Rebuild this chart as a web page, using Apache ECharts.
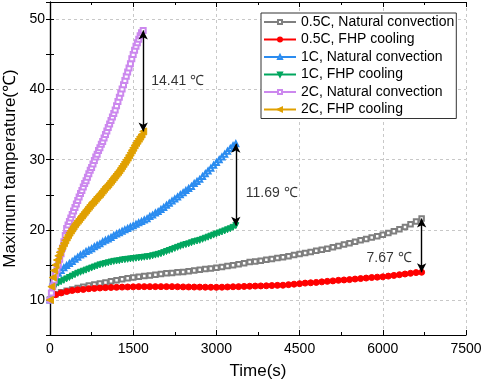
<!DOCTYPE html>
<html>
<head>
<meta charset="utf-8">
<script src="https://cdn.jsdelivr.net/npm/echarts@6/dist/echarts.min.js"></script>
<style>
  html, body { margin: 0; padding: 0; background: #fff; }
  #chart { width: 484px; height: 381px; }
</style>
</head>
<body>
<div id="chart"></div>
<script>
// sampling times (s)
const t05 = [0,100,200,300,400,500,600,700,800,900,1000,1100,1200,1300,1400,1500,1600,1700,1800,1900,
  2000,2100,2200,2300,2400,2500,2600,2700,2800,2900,3000,3100,3200,3300,3400,3500,3600,3700,3800,3900,
  4000,4100,4200,4300,4400,4500,4600,4700,4800,4900,5000,5100,5200,5300,5400,5500,5600,5700,5800,5900,
  6000,6100,6200,6300,6400,6500,6600,6700]
const t1 = [0,50,100,150,200,250,300,350,400,450,500,550,600,650,700,750,800,850,900,950,
  1000,1050,1100,1150,1200,1250,1300,1350,1400,1450,1500,1550,1600,1650,1700,1750,1800,1850,1900,1950,
  2000,2050,2100,2150,2200,2250,2300,2350,2400,2450,2500,2550,2600,2650,2700,2750,2800,2850,2900,2950,
  3000,3050,3100,3150,3200,3250,3300,3350]
const t2 = [0,25,50,75,100,125,150,175,200,225,250,275,300,325,350,375,400,425,450,475,
  500,525,550,575,600,625,650,675,700,725,750,775,800,825,850,875,900,925,950,975,
  1000,1025,1050,1075,1100,1125,1150,1175,1200,1225,1250,1275,1300,1325,1350,1375,1400,1425,1450,1475,
  1500,1525,1550,1575,1600,1625,1650,1680]

// maximum temperature (℃)
const nc05 = [10,10.8,11.1,11.3,11.5,11.7,11.9,12.05,12.2,12.35,12.5,12.65,12.8,12.95,13.1,13.2,13.3,13.4,13.5,13.6,
  13.7,13.8,13.85,13.95,14.0,14.1,14.2,14.3,14.4,14.5,14.6,14.7,14.85,14.95,15.1,15.25,15.4,15.5,15.6,15.75,
  15.85,16.0,16.1,16.25,16.4,16.55,16.7,16.85,17.0,17.15,17.3,17.5,17.7,17.9,18.1,18.3,18.5,18.7,18.9,19.1,
  19.3,19.55,19.8,20.1,20.4,20.8,21.2,21.62]
const fhp05 = [10,10.75,11.0,11.2,11.35,11.45,11.5,11.6,11.65,11.7,11.75,11.78,11.8,11.83,11.85,11.87,11.9,11.9,11.9,11.9,
  11.9,11.9,11.9,11.88,11.86,11.85,11.84,11.83,11.82,11.81,11.8,11.82,11.85,11.88,11.9,11.93,11.95,11.98,12.0,12.02,
  12.05,12.08,12.1,12.18,12.25,12.32,12.4,12.45,12.5,12.58,12.65,12.72,12.8,12.85,12.9,12.98,13.05,13.12,13.2,13.25,
  13.3,13.4,13.5,13.6,13.7,13.8,13.9,13.95]
const nc1 = [10,12.6,13.3,13.8,14.2,14.6,14.9,15.2,15.5,15.8,16.1,16.4,16.6,16.9,17.1,17.3,17.6,17.8,18.0,18.3,
  18.5,18.7,18.9,19.2,19.4,19.6,19.8,20.0,20.2,20.4,20.6,20.8,21.0,21.2,21.4,21.6,21.9,22.1,22.4,22.6,
  22.9,23.2,23.5,23.8,24.1,24.4,24.7,25.0,25.3,25.6,25.9,26.2,26.6,26.9,27.2,27.6,28.0,28.4,28.8,29.2,
  29.6,30.0,30.4,30.8,31.2,31.6,32.0,32.29]
const fhp1 = [10,11.6,12.1,12.4,12.6,12.8,13.0,13.2,13.4,13.6,13.8,13.95,14.1,14.25,14.4,14.55,14.7,14.85,15.0,15.1,
  15.2,15.3,15.4,15.5,15.55,15.6,15.7,15.75,15.8,15.85,15.9,15.95,16.0,16.05,16.1,16.15,16.2,16.3,16.4,16.5,
  16.6,16.75,16.9,17.05,17.2,17.35,17.5,17.65,17.8,17.9,18.0,18.15,18.3,18.4,18.5,18.65,18.8,18.95,19.1,19.25,
  19.4,19.55,19.7,19.85,20.0,20.15,20.35,20.6]
const nc2 = [10,11.0,11.9,12.8,13.6,14.3,15.0,15.8,16.6,17.4,18.3,19.2,20.2,20.7,21.2,21.7,22.2,22.7,23.2,23.7,
  24.2,24.7,25.2,25.6,26.1,26.6,27.0,27.5,28.0,28.5,28.9,29.4,29.9,30.4,30.8,31.3,31.7,32.2,32.6,33.1,
  33.6,34.1,34.6,35.1,35.6,36.1,36.6,37.1,37.7,38.3,38.9,39.5,40.1,40.7,41.3,41.9,42.5,43.1,43.7,44.4,
  45.0,45.6,46.2,46.7,47.2,47.7,48.1,48.45]
const fhp2 = [10,11.9,13.2,14.2,15.0,15.7,16.3,16.8,17.3,17.7,18.1,18.5,18.9,19.25,19.6,19.9,20.2,20.5,20.8,21.05,
  21.3,21.55,21.8,22.05,22.3,22.55,22.8,23.05,23.3,23.55,23.8,24.0,24.2,24.45,24.7,24.9,25.1,25.35,25.6,25.85,
  26.1,26.3,26.5,26.75,27.0,27.25,27.5,27.75,28.0,28.25,28.5,28.8,29.1,29.4,29.7,30.0,30.3,30.65,31.0,31.35,
  31.7,32.05,32.4,32.7,33.0,33.3,33.6,34.04]

const seriesNames = ["0.5C, Natural convection", "0.5C, FHP cooling", "1C, Natural convection",
  "1C, FHP cooling", "2C, Natural convection", "2C, FHP cooling"]
const diffLabels = ["14.41 ℃", "11.69 ℃", "7.67 ℃"]
const xTicks = [0, 1500, 3000, 4500, 6000, 7500]

const font = "'Liberation Sans', Arial, sans-serif"
const pts = (t, v) => t.map((x, i) => [x, v[i]])
const last = (a) => a[a.length - 1]

const chart = echarts.init(document.getElementById("chart"), null, { renderer: "canvas" })

const gridColor = "#c8c8c8"
const axisColor = "#000"

function arrow(t, lo, hi) {
  return {
    silent: true,
    symbol: ["arrow", "arrow"],
    symbolSize: [7, 9],
    label: { show: false },
    lineStyle: { color: "#000", width: 1.4, type: "solid" },
    emphasis: { disabled: true },
    animation: false,
    data: [[{ coord: [t, lo] }, { coord: [t, hi] }]],
  }
}

function lineSeries(name, data, color, symbol, size, opts = {}) {
  return Object.assign({
    name,
    type: "line",
    data,
    symbol,
    symbolSize: size,
    showSymbol: true,
    lineStyle: { color, width: 1 },
    itemStyle: { color, borderColor: color, borderWidth: 1 },
    emphasis: { disabled: true },
  }, opts)
}

const notes = [
  { t: last(t2), lo: last(fhp2), hi: last(nc2), text: diffLabels[0], pos: "right", dist: 8, dy: 0 },
  { t: last(t1), lo: last(fhp1), hi: last(nc1), text: diffLabels[1], pos: "right", dist: 10, dy: 8 },
  { t: last(t05), lo: last(fhp05), hi: last(nc05), text: diffLabels[2], pos: "left", dist: 10, dy: 13 },
]

const series = [
  lineSeries(seriesNames[0], pts(t05, nc05), "#7f7f7f", "emptyRect", 4.5),
  lineSeries(seriesNames[1], pts(t05, fhp05), "#ff0000", "circle", 6,
    { markLine: arrow(notes[2].t, notes[2].lo, notes[2].hi) }),
  lineSeries(seriesNames[2], pts(t1, nc1), "#2b8cf0", "emptyTriangle", 5),
  lineSeries(seriesNames[3], pts(t1, fhp1), "#00a65e", "triangle", 6,
    { symbolRotate: 180, markLine: arrow(notes[1].t, notes[1].lo, notes[1].hi) }),
  lineSeries(seriesNames[4], pts(t2, nc2), "#cc88ee", "emptyRect", 5),
  lineSeries(seriesNames[5], pts(t2, fhp2), "#e0a000", "triangle", 7,
    { symbolRotate: 90, markLine: arrow(notes[0].t, notes[0].lo, notes[0].hi) }),
  {
    name: "notes",
    type: "scatter",
    silent: true,
    symbolSize: 0,
    z: 10,
    data: notes.map((n) => ({
      value: [n.t, (n.lo + n.hi) / 2],
      label: {
        show: true,
        formatter: n.text,
        position: n.pos,
        distance: n.dist,
        offset: [0, n.dy],
        color: "#000",
        fontSize: 14,
        fontFamily: font,
      },
    })),
  },
]

const tickStyle = { inside: true, length: 5, lineStyle: { color: axisColor, width: 1 } }

chart.setOption({
  animation: false,
  backgroundColor: "#fff",
  textStyle: { fontFamily: font },
  grid: { left: 50, right: 18, top: 2, bottom: 46, outerBoundsMode: "none", containLabel: false },
  legend: {
    data: seriesNames,
    orient: "vertical",
    left: 261,
    top: 13,
    padding: [2, 2, 2, 2],
    itemGap: 3.5,
    itemWidth: 32,
    itemHeight: 5,
    backgroundColor: "#fff",
    borderColor: "#333",
    borderWidth: 1,
    borderRadius: 0,
    textStyle: { color: "#000", fontSize: 14, lineHeight: 14, fontFamily: font },
  },
  xAxis: [
    {
      type: "value",
      min: 0,
      max: 7500,
      interval: 1500,
      name: "Time(s)",
      nameLocation: "middle",
      nameGap: 28,
      nameTextStyle: { color: "#000", fontSize: 17, fontFamily: font },
      axisLine: { lineStyle: { color: axisColor, width: 1.2 } },
      axisTick: tickStyle,
      minorTick: { show: true, splitNumber: 2, length: 3, lineStyle: { color: axisColor } },
      axisLabel: {
        color: "#000", fontSize: 14, margin: 7, fontFamily: font,
        customValues: xTicks,
        formatter: (v) => String(v),
      },
      splitLine: { show: true, lineStyle: { color: gridColor, type: [3, 3], width: 1 } },
    },
    {
      type: "value",
      position: "top",
      min: 0,
      max: 7500,
      interval: 1500,
      axisLine: { lineStyle: { color: axisColor, width: 1.2 } },
      axisTick: tickStyle,
      minorTick: { show: true, splitNumber: 2, length: 3, lineStyle: { color: axisColor } },
      axisLabel: { show: false },
      splitLine: { show: false },
    },
  ],
  yAxis: [
    {
      type: "value",
      min: 5,
      max: 52.5,
      interval: 5,
      name: "Maximum tamperature(℃)",
      nameLocation: "middle",
      nameGap: 31,
      nameTextStyle: { color: "#000", fontSize: 17, fontFamily: font },
      axisLine: { lineStyle: { color: axisColor, width: 1.2 } },
      axisTick: { inside: true, length: 4, lineStyle: { color: axisColor, width: 1 } },
      axisLabel: {
        color: "#000", fontSize: 14, margin: 5, fontFamily: font,
        formatter: (v) => (v % 10 === 0 ? String(v) : ""),
      },
      splitLine: { show: true, lineStyle: { color: ["transparent", gridColor], type: [3, 3], width: 1 } },
    },
    {
      type: "value",
      position: "right",
      min: 5,
      max: 52.5,
      interval: 5,
      axisLine: { show: true, lineStyle: { color: axisColor, width: 1.2 } },
      axisTick: { show: true, inside: true, length: 4, lineStyle: { color: axisColor, width: 1 } },
      axisLabel: { show: false },
      splitLine: { show: false },
    },
  ],
  series,
})
</script>
</body>
</html>
